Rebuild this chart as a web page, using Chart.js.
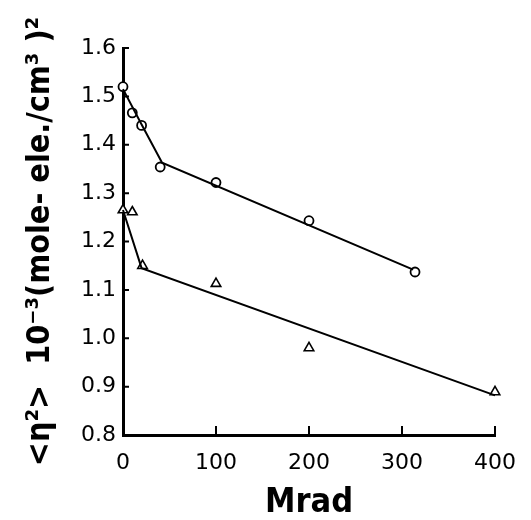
<!DOCTYPE html>
<html>
<head>
<meta charset="utf-8">
<script src="https://cdn.jsdelivr.net/npm/chart.js@4.4.1/dist/chart.umd.min.js"></script>
<style>
  html, body { margin: 0; padding: 0; background: #fff; }
  #wrap { width: 531px; height: 520px; }
</style>
</head>
<body>
<div id="wrap"><canvas id="c" width="531" height="520"></canvas></div>
<script>
// measured points (Mrad, value)
const circleX = [0, 10, 20, 40, 100, 200, 314];
const circleY = [1.52, 1.466, 1.44, 1.354, 1.322, 1.243, 1.137];
const triX = [0, 10, 21, 100, 200, 400];
const triY = [1.265, 1.261, 1.15, 1.113, 0.98, 0.889];

// drawn guide lines
const circleLineX = [0, 20, 42, 312];
const circleLineY = [1.515, 1.442, 1.363, 1.142];
const triLineX = [0, 20, 400];
const triLineY = [1.265, 1.145, 0.882];

const xTicks = [0, 100, 200, 300, 400];
const yTicks = [0.8, 0.9, 1.0, 1.1, 1.2, 1.3, 1.4, 1.5, 1.6];

const toXY = (xs, ys) => xs.map((x, i) => ({x: x, y: ys[i]}));

// inward tick marks
const innerTicks = {
    id: 'innerTicks',
    afterDatasetsDraw(chart) {
        const ctx = chart.ctx;
        const xs = chart.scales.x, ys = chart.scales.y;
        ctx.save();
        ctx.strokeStyle = '#000';
        ctx.lineWidth = 2;
        ctx.beginPath();
        yTicks.slice(1).forEach(v => {
            const p = ys.getPixelForValue(v);
            ctx.moveTo(xs.left, p);
            ctx.lineTo(xs.left + 6, p);
        });
        xTicks.slice(1).forEach(v => {
            const p = xs.getPixelForValue(v);
            ctx.moveTo(p, ys.bottom);
            ctx.lineTo(p, ys.bottom - 9);
        });
        ctx.stroke();
        ctx.restore();
    }
};

new Chart(document.getElementById('c'), {
    type: 'scatter',
    data: {
        datasets: [
            {
                data: toXY(circleLineX, circleLineY),
                showLine: true, borderColor: '#000', borderWidth: 2,
                pointRadius: 0, clip: false
            },
            {
                data: toXY(triLineX, triLineY),
                showLine: true, borderColor: '#000', borderWidth: 2,
                pointRadius: 0, clip: false
            },
            {
                data: toXY(circleX, circleY),
                pointStyle: 'circle', pointRadius: 4.5, clip: false,
                backgroundColor: '#fff', borderColor: '#000', borderWidth: 1.8
            },
            {
                data: toXY(triX, triY),
                pointStyle: 'triangle', pointRadius: 5.5, clip: false,
                backgroundColor: '#fff', borderColor: '#000', borderWidth: 1.6
            }
        ]
    },
    options: {
        responsive: false,
        animation: false,
        layout: { padding: { left: 0, top: 48, right: 31, bottom: 0 } },
        plugins: { legend: { display: false }, tooltip: { enabled: false } },
        scales: {
            x: {
                type: 'linear', min: 0, max: 400,
                afterBuildTicks: s => { s.ticks = xTicks.map(v => ({value: v})); },
                afterFit: s => { s.height = 85; },
                grid: { display: false, drawTicks: false },
                border: { display: true, color: '#000', width: 3 },
                ticks: { color: '#000', padding: 15, font: { family: 'DejaVu Sans', size: 22 } },
                title: {
                    display: true, text: 'Mrad', color: '#000',
                    font: { family: 'DejaVu Sans Condensed', size: 34, weight: 'bold', lineHeight: 1 },
                    padding: { top: 0, bottom: 0 }
                }
            },
            y: {
                type: 'linear', min: 0.8, max: 1.6,
                afterBuildTicks: s => { s.ticks = yTicks.map(v => ({value: v})); },
                afterFit: s => { s.width = 123; },
                grid: { display: false, drawTicks: false },
                border: { display: true, color: '#000', width: 3 },
                ticks: {
                    color: '#000', padding: 7, font: { family: 'DejaVu Sans', size: 22 },
                    callback: v => v.toFixed(1)
                },
                title: {
                    display: true, text: '<η²>  10⁻³(mole- ele./cm³ )²', color: '#000',
                    font: { family: 'DejaVu Sans Condensed', size: 32, weight: 'bold', lineHeight: 1 },
                    padding: { top: 25, bottom: 0 }
                }
            }
        }
    },
    plugins: [innerTicks]
});
</script>
</body>
</html>
